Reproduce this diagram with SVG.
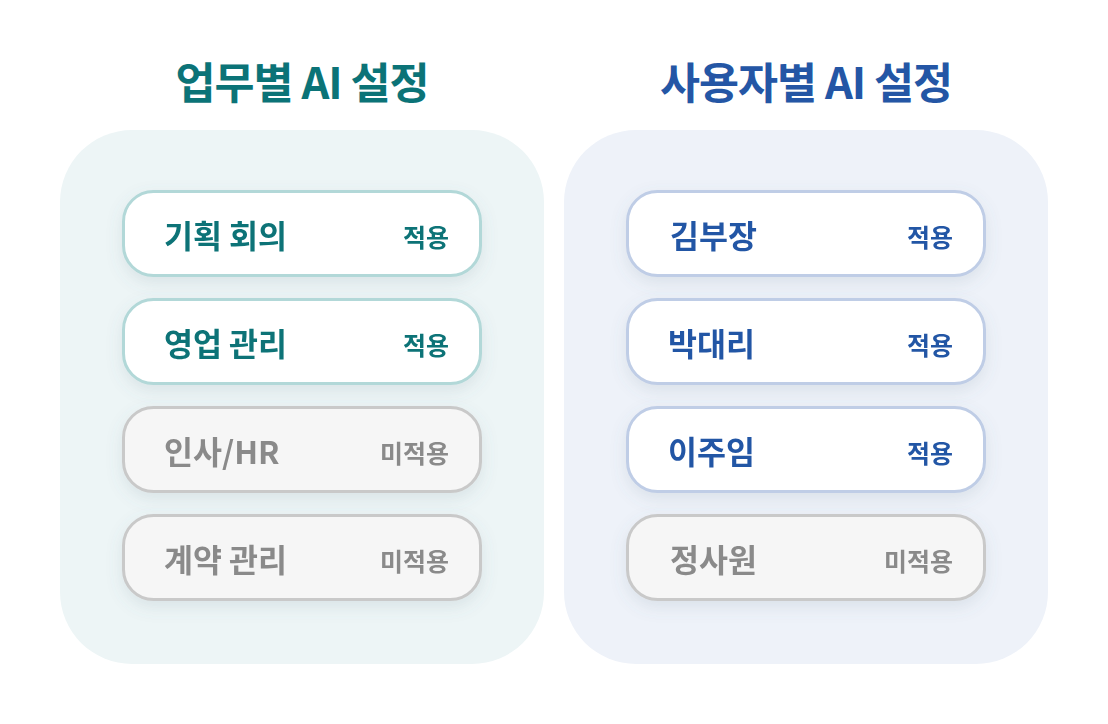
<svg xmlns="http://www.w3.org/2000/svg" width="1108" height="724" viewBox="0 0 1108 724">
<style>
text{font-family:"Noto Sans CJK KR","Noto Sans",sans-serif;font-weight:700}
.title{font-size:43.5px;text-anchor:middle;letter-spacing:-1px}
.lbl{font-size:31.5px}
.st{font-size:25px;text-anchor:end}
.teal{fill:#0b7377}
.blue{fill:#2456a5}
.gray{fill:#8a8a8a}
.cardT{fill:#ffffff;stroke:#b2d8d8;stroke-width:3}
.cardB{fill:#ffffff;stroke:#bfcde6;stroke-width:3}
.cardG{fill:#f6f6f6;stroke:#c9c9c9;stroke-width:3}
</style>
<defs>
<filter id="sh" x="-20%" y="-30%" width="140%" height="180%">
<feDropShadow dx="0" dy="6" stdDeviation="8" flood-color="#5a7a8a" flood-opacity="0.14"/>
</filter>
</defs>
<rect width="1108" height="724" fill="#ffffff"/>
<g id="panel-left">
<rect x="60" y="130" width="484" height="534" rx="72" fill="#edf5f6"/>
<text class="title teal" x="302" y="99">업무별 AI 설정</text>
</g>
<g id="panel-right">
<rect x="564" y="130" width="484" height="534" rx="72" fill="#eef2f9"/>
<text class="title blue" x="806" y="99">사용자별 AI 설정</text>
</g>
<g id="node-plan" filter="url(#sh)">
<rect class="cardT" x="123.5" y="191.5" width="357" height="84" rx="30"/>
<text class="lbl teal" x="164" y="248">기획 회의</text>
<text class="st teal" x="449" y="247">적용</text>
</g>
<g id="node-sales" filter="url(#sh)">
<rect class="cardT" x="123.5" y="299.5" width="357" height="84" rx="30"/>
<text class="lbl teal" x="164" y="356">영업 관리</text>
<text class="st teal" x="449" y="355">적용</text>
</g>
<g id="node-hr" filter="url(#sh)">
<rect class="cardG" x="123.5" y="407.5" width="357" height="84" rx="30"/>
<text class="lbl gray" x="164" y="464">인사/HR</text>
<text class="st gray" x="449" y="463">미적용</text>
</g>
<g id="node-contract" filter="url(#sh)">
<rect class="cardG" x="123.5" y="515.5" width="357" height="84" rx="30"/>
<text class="lbl gray" x="164" y="572">계약 관리</text>
<text class="st gray" x="449" y="571">미적용</text>
</g>
<g id="node-kim" filter="url(#sh)">
<rect class="cardB" x="627.5" y="191.5" width="357" height="84" rx="30"/>
<text class="lbl blue" x="670" y="248">김부장</text>
<text class="st blue" x="953" y="247">적용</text>
</g>
<g id="node-park" filter="url(#sh)">
<rect class="cardB" x="627.5" y="299.5" width="357" height="84" rx="30"/>
<text class="lbl blue" x="668" y="356">박대리</text>
<text class="st blue" x="953" y="355">적용</text>
</g>
<g id="node-lee" filter="url(#sh)">
<rect class="cardB" x="627.5" y="407.5" width="357" height="84" rx="30"/>
<text class="lbl blue" x="668" y="464">이주임</text>
<text class="st blue" x="953" y="463">적용</text>
</g>
<g id="node-jung" filter="url(#sh)">
<rect class="cardG" x="627.5" y="515.5" width="357" height="84" rx="30"/>
<text class="lbl gray" x="670" y="572">정사원</text>
<text class="st gray" x="953" y="571">미적용</text>
</g>
<g id="connectors"></g>
</svg>
